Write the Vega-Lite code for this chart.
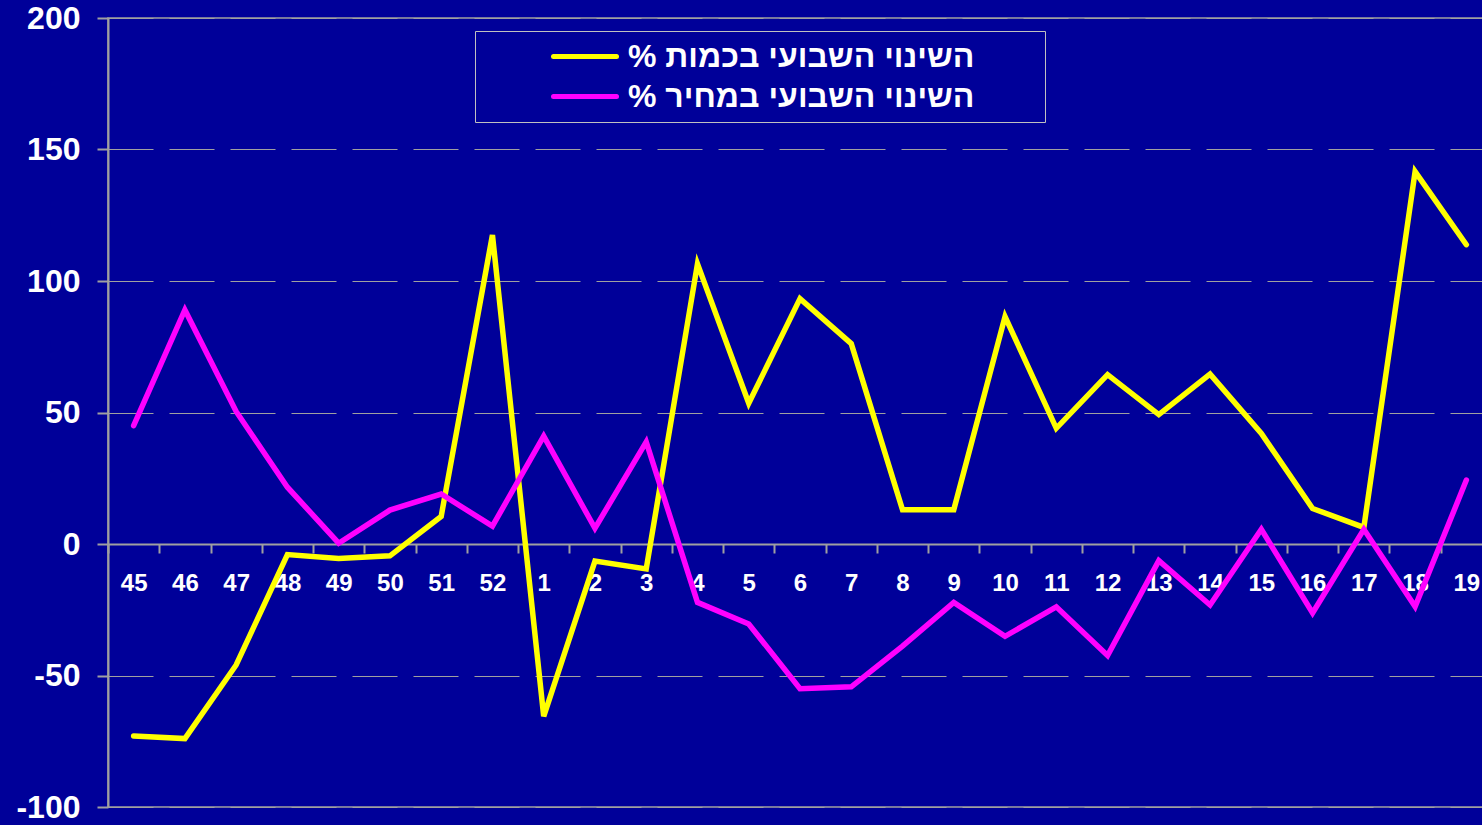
{
  "$schema": "https://vega.github.io/schema/vega-lite/v6.json",
  "autosize": "none",
  "padding": {"left": 108, "top": 18, "right": 0, "bottom": 18},
  "width": 1384,
  "height": 789,
  "background": "#000099",
  "config": {
    "view": {"stroke": "#a0a0a0", "strokeWidth": 1.5, "fill": "#000099"},
    "font": "Liberation Sans"
  },
  "datasets": {
    "d": [
      {"week": "45", "series": "% השינוי השבועי בכמות", "value": -73},
      {"week": "46", "series": "% השינוי השבועי בכמות", "value": -74},
      {"week": "47", "series": "% השינוי השבועי בכמות", "value": -46},
      {"week": "48", "series": "% השינוי השבועי בכמות", "value": -4},
      {"week": "49", "series": "% השינוי השבועי בכמות", "value": -5.5},
      {"week": "50", "series": "% השינוי השבועי בכמות", "value": -4.5},
      {"week": "51", "series": "% השינוי השבועי בכמות", "value": 10.5},
      {"week": "52", "series": "% השינוי השבועי בכמות", "value": 117.5},
      {"week": "1", "series": "% השינוי השבועי בכמות", "value": -65.5},
      {"week": "2", "series": "% השינוי השבועי בכמות", "value": -6.5},
      {"week": "3", "series": "% השינוי השבועי בכמות", "value": -9.5},
      {"week": "4", "series": "% השינוי השבועי בכמות", "value": 106.5},
      {"week": "5", "series": "% השינוי השבועי בכמות", "value": 53.5},
      {"week": "6", "series": "% השינוי השבועי בכמות", "value": 93.3},
      {"week": "7", "series": "% השינוי השבועי בכמות", "value": 76.2},
      {"week": "8", "series": "% השינוי השבועי בכמות", "value": 13},
      {"week": "9", "series": "% השינוי השבועי בכמות", "value": 13},
      {"week": "10", "series": "% השינוי השבועי בכמות", "value": 86.5},
      {"week": "11", "series": "% השינוי השבועי בכמות", "value": 44},
      {"week": "12", "series": "% השינוי השבועי בכמות", "value": 64.4},
      {"week": "13", "series": "% השינוי השבועי בכמות", "value": 49.2},
      {"week": "14", "series": "% השינוי השבועי בכמות", "value": 64.6},
      {"week": "15", "series": "% השינוי השבועי בכמות", "value": 42},
      {"week": "16", "series": "% השינוי השבועי בכמות", "value": 13.5},
      {"week": "17", "series": "% השינוי השבועי בכמות", "value": 6.3},
      {"week": "18", "series": "% השינוי השבועי בכמות", "value": 141.6},
      {"week": "19", "series": "% השינוי השבועי בכמות", "value": 113.8},
      {"week": "45", "series": "% השינוי השבועי במחיר", "value": 45},
      {"week": "46", "series": "% השינוי השבועי במחיר", "value": 89},
      {"week": "47", "series": "% השינוי השבועי במחיר", "value": 50.4},
      {"week": "48", "series": "% השינוי השבועי במחיר", "value": 21.6},
      {"week": "49", "series": "% השינוי השבועי במחיר", "value": 0.3},
      {"week": "50", "series": "% השינוי השבועי במחיר", "value": 12.9},
      {"week": "51", "series": "% השינוי השבועי במחיר", "value": 19},
      {"week": "52", "series": "% השינוי השבועי במחיר", "value": 6.8},
      {"week": "1", "series": "% השינוי השבועי במחיר", "value": 41},
      {"week": "2", "series": "% השינוי השבועי במחיר", "value": 6},
      {"week": "3", "series": "% השינוי השבועי במחיר", "value": 38.8},
      {"week": "4", "series": "% השינוי השבועי במחיר", "value": -22.2},
      {"week": "5", "series": "% השינוי השבועי במחיר", "value": -30.4},
      {"week": "6", "series": "% השינוי השבועי במחיר", "value": -55},
      {"week": "7", "series": "% השינוי השבועי במחיר", "value": -54.3},
      {"week": "8", "series": "% השינוי השבועי במחיר", "value": -38.8},
      {"week": "9", "series": "% השינוי השבועי במחיר", "value": -22.2},
      {"week": "10", "series": "% השינוי השבועי במחיר", "value": -35.1},
      {"week": "11", "series": "% השינוי השבועי במחיר", "value": -23.9},
      {"week": "12", "series": "% השינוי השבועי במחיר", "value": -42.4},
      {"week": "13", "series": "% השינוי השבועי במחיר", "value": -6.3},
      {"week": "14", "series": "% השינוי השבועי במחיר", "value": -23.2},
      {"week": "15", "series": "% השינוי השבועי במחיר", "value": 5.6},
      {"week": "16", "series": "% השינוי השבועי במחיר", "value": -26.2},
      {"week": "17", "series": "% השינוי השבועי במחיר", "value": 5.6},
      {"week": "18", "series": "% השינוי השבועי במחיר", "value": -23.8},
      {"week": "19", "series": "% השינוי השבועי במחיר", "value": 24.3}
    ]
  },
  "data": {"name": "d"},
  "mark": {"type": "line", "strokeWidth": 5.5, "strokeCap": "round"},
  "encoding": {
    "x": {
      "field": "week",
      "type": "nominal",
      "sort": null,
      "scale": {"type": "band", "paddingInner": 0, "paddingOuter": 0},
      "axis": {
        "title": null,
        "labelAngle": 0,
        "offset": -263,
        "tickBand": "extent",
        "tickSize": 9,
        "tickWidth": 2,
        "tickColor": "#a0a0a0",
        "domainColor": "#a0a0a0",
        "domainWidth": 2,
        "labelColor": "#ffffff",
        "labelFont": "Liberation Sans",
        "labelFontSize": 24,
        "labelFontWeight": "bold",
        "labelPadding": 18,
        "labelOverlap": false,
        "grid": false
      }
    },
    "y": {
      "field": "value",
      "type": "quantitative",
      "scale": {"domain": [-100, 200], "nice": false, "zero": false},
      "axis": {
        "title": null,
        "values": [-100, -50, 0, 50, 100, 150, 200],
        "labelExpr": "replace(datum.label, '\u2212', '-')",
        "grid": true,
        "gridColor": "#a0a0a0",
        "gridWidth": 1,
        "gridDash": [45, 16],
        "domainColor": "#a0a0a0",
        "domainWidth": 2,
        "tickColor": "#a0a0a0",
        "tickWidth": 2,
        "tickSize": 11,
        "labelColor": "#ffffff",
        "labelFont": "Liberation Sans",
        "labelFontSize": 32,
        "labelFontWeight": "bold",
        "labelPadding": 17,
        "labelOverlap": false,
        "labelFlush": false
      }
    },
    "color": {
      "field": "series",
      "type": "nominal",
      "scale": {
        "domain": ["% השינוי השבועי בכמות", "% השינוי השבועי במחיר"],
        "range": ["#ffff00", "#ff00ff"]
      },
      "legend": {
        "title": null,
        "orient": "none",
        "legendX": 367,
        "legendY": 13,
        "padding": 9,
        "fillColor": "#000099",
        "strokeColor": "#c0c0c0",
        "symbolType": "M-2.25,0H2.25M31.45,0",
        "symbolSize": 784,
        "symbolStrokeWidth": 5,
        "symbolOffset": 84.5,
        "labelOffset": 26.5,
        "labelFont": "Liberation Sans",
        "labelFontSize": 32,
        "labelFontWeight": "bold",
        "labelColor": "#ffffff",
        "labelLimit": 1000,
        "rowPadding": 7,
        "encode": {
          "symbols": {"update": {"strokeCap": {"value": "round"}}}
        }
      }
    }
  }
}
